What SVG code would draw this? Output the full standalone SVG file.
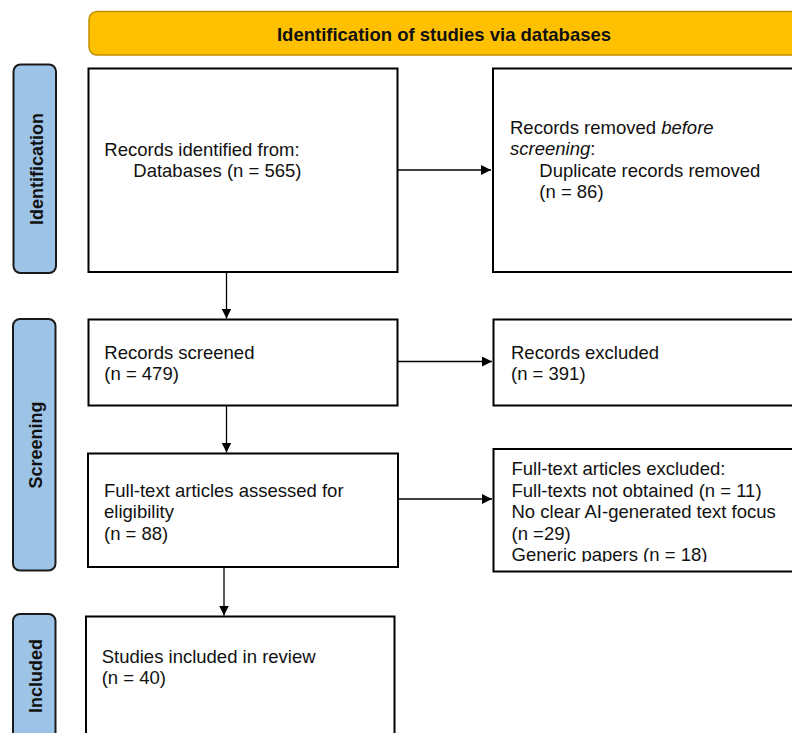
<svg xmlns="http://www.w3.org/2000/svg" width="792" height="733" viewBox="0 0 792 733">
<style>
.box{fill:#fff;stroke:#000;stroke-width:2}
.side{fill:#9DC3E6;stroke:#1a1a1a;stroke-width:2}
.banner{fill:#FFC000;stroke:#BF9000;stroke-width:1.5}
.t{font-family:"Liberation Sans",Arial,sans-serif;font-size:18.5px;fill:#111}
.b{font-family:"Liberation Sans",Arial,sans-serif;font-size:18.5px;font-weight:bold;fill:#111}
.s{font-family:"Liberation Sans",Arial,sans-serif;font-size:18px;font-weight:bold;fill:#111}
.c{stroke:#000;stroke-width:1.3;fill:none}
</style>
<defs>
<marker id="ah" markerWidth="10" markerHeight="10" refX="10" refY="5" orient="auto" markerUnits="userSpaceOnUse" viewBox="0 0 10 10">
<path d="M0,0 L10,5 L0,10 Z" fill="#000"/>
</marker>
<clipPath id="clip6"><rect x="494" y="449" width="300" height="113"/></clipPath>
</defs>
<rect width="792" height="733" fill="#fff"/>
<g id="banner">
<rect class="banner" x="89" y="11.5" width="712" height="43.5" rx="8"/>
<text class="b" x="444" y="40.5" text-anchor="middle">Identification of studies via databases</text>
</g>
<g id="side-identification">
<rect class="side" x="13.5" y="64.5" width="42.5" height="208.5" rx="7"/>
<text class="s" transform="translate(42.5,169) rotate(-90)" text-anchor="middle">Identification</text>
</g>
<g id="side-screening">
<rect class="side" x="13" y="319" width="42.5" height="251.5" rx="7"/>
<text class="s" transform="translate(42,445) rotate(-90)" text-anchor="middle">Screening</text>
</g>
<g id="side-included">
<rect class="side" x="13" y="614" width="42.5" height="140" rx="7"/>
<text class="s" transform="translate(42,676) rotate(-90)" text-anchor="middle">Included</text>
</g>
<g id="identified">
<rect class="box" x="88.5" y="68.5" width="309" height="203.5"/>
<text class="t" x="104.3" y="156">Records identified from:</text>
<text class="t" x="133.3" y="177">Databases (n = 565)</text>
</g>
<g id="removed">
<rect class="box" x="493" y="68.5" width="310" height="203.5"/>
<text class="t" x="510" y="134">Records removed <tspan font-style="italic">before</tspan></text>
<text class="t" x="510" y="155"><tspan font-style="italic">screening</tspan>:</text>
<text class="t" x="539.3" y="177">Duplicate records removed</text>
<text class="t" x="539.3" y="198">(n = 86)</text>
</g>
<g id="screened">
<rect class="box" x="88.5" y="319.5" width="309" height="86"/>
<text class="t" x="104.3" y="358.5">Records screened</text>
<text class="t" x="104.3" y="380">(n = 479)</text>
</g>
<g id="excluded">
<rect class="box" x="493.5" y="319.5" width="310" height="86"/>
<text class="t" x="511" y="358.5">Records excluded</text>
<text class="t" x="511" y="380">(n = 391)</text>
</g>
<g id="fulltext">
<rect class="box" x="88" y="453.5" width="310" height="113.5"/>
<text class="t" x="104" y="496.5">Full-text articles assessed for</text>
<text class="t" x="104" y="518">eligibility</text>
<text class="t" x="104" y="539.5">(n = 88)</text>
</g>
<g id="fulltext-excluded">
<rect class="box" x="493.5" y="449" width="310" height="122.5"/>
<g clip-path="url(#clip6)">
<text class="t" x="511.5" y="475">Full-text articles excluded:</text>
<text class="t" x="511.5" y="496.5">Full-texts not obtained (n = 11)</text>
<text class="t" x="511.5" y="518">No clear AI-generated text focus</text>
<text class="t" x="511.5" y="539.5">(n =29)</text>
<text class="t" x="511.5" y="561">Generic papers (n = 18)</text>
</g>
</g>
<g id="included">
<rect class="box" x="86" y="616.5" width="308.5" height="140"/>
<text class="t" x="101.7" y="662.5">Studies included in review</text>
<text class="t" x="101.7" y="684">(n = 40)</text>
</g>
<g id="connectors">
<line class="c" x1="226.5" y1="272" x2="226.5" y2="318.5" marker-end="url(#ah)"/>
<line class="c" x1="226.5" y1="405.5" x2="226.5" y2="452.5" marker-end="url(#ah)"/>
<line class="c" x1="224" y1="567" x2="224" y2="615.5" marker-end="url(#ah)"/>
<line class="c" x1="397.5" y1="170" x2="491" y2="170" marker-end="url(#ah)"/>
<line class="c" x1="397.5" y1="361.5" x2="492" y2="361.5" marker-end="url(#ah)"/>
<line class="c" x1="398" y1="499" x2="492" y2="499" marker-end="url(#ah)"/>
</g>
</svg>
